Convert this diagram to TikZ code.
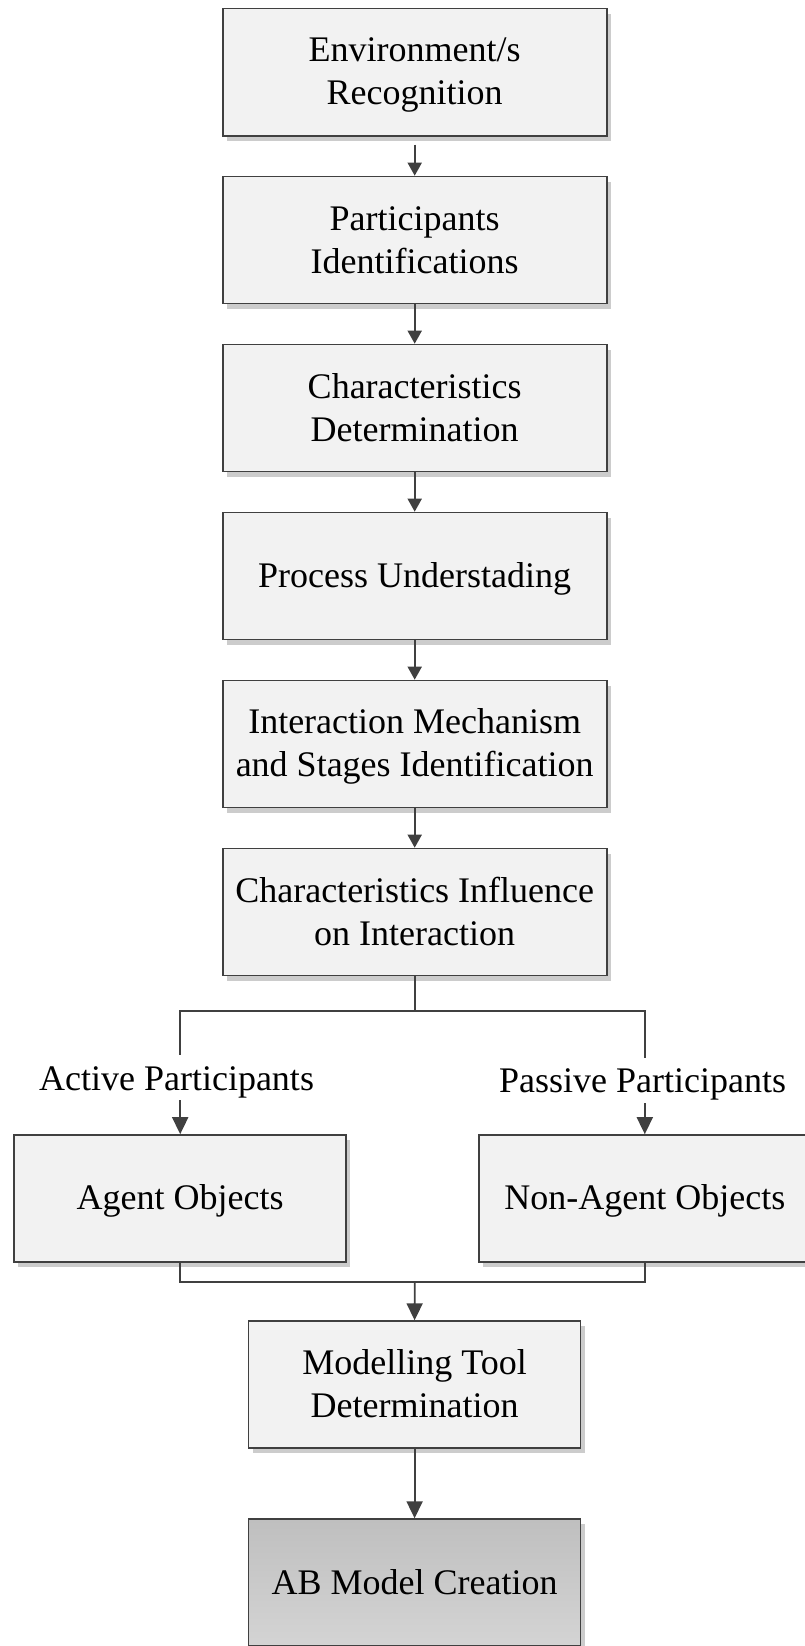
\documentclass[tikz,border=0pt]{standalone}
\usepackage{fontspec}
\setmainfont{Liberation Serif}
\usetikzlibrary{arrows.meta,shadows}
\definecolor{edge}{HTML}{404040}
\definecolor{boxfill}{HTML}{F2F2F2}
\definecolor{darktop}{HTML}{BFBFBF}
\definecolor{darkbot}{HTML}{D4D4D4}
% invisible struts that fix where the lines of a box sit
\newcommand\topst[1][30pt]{\rule{0pt}{#1}}
\newcommand\botst[1][7pt]{\rule[-#1]{0pt}{#1}}
\begin{document}
\begin{tikzpicture}[x=1pt,y=-1pt,
  stepbox/.style={draw=edge, line width=1.6pt, fill=boxfill,
    minimum width=384pt, minimum height=127pt, inner sep=0pt,
    align=center, font=\fontsize{36}{43}\selectfont,
    drop shadow={shadow xshift=4pt, shadow yshift=-5pt, fill=black!20, opacity=1}},
  narrowbox/.style={stepbox, minimum width=332pt},
  tag/.style={inner sep=0pt, anchor=base, font=\fontsize{36}{43}\selectfont},
  conn/.style={draw=edge, line width=1.8pt},
  arr/.style={conn, -{Triangle[length=13pt,width=14pt]}},
  bigarr/.style={conn, -{Triangle[length=17pt,width=16pt]}}
]
\useasboundingbox (0,0) rectangle (805,1646);

% main chain of steps
\node[stepbox] (b1) at (414.7,72.2)  {\topst Environment/s\\Recognition\botst};
\node[stepbox] (b2) at (414.7,240.0) {\topst Participants\\Identifications\botst};
\node[stepbox] (b3) at (414.7,408.0) {\topst Characteristics\\Determination\botst};
\node[stepbox] (b4) at (414.7,576.0) {\topst Process Understading\botst};
\node[stepbox] (b5) at (414.7,744.0) {\topst Interaction Mechanism\\and Stages Identification\botst};
\node[stepbox] (b6) at (414.7,912.0) {\topst Characteristics Influence\\on Interaction\botst};

% the two kinds of participants
\node[narrowbox] (agent)    at (180.2,1198.5) {\topst Agent Objects\botst};
\node[narrowbox] (nonagent) at (644.8,1198.5) {\topst Non-Agent Objects\botst};
\node[tag, text height=35pt, text depth=10pt] (act) at (176.5,1090) {Active Participants};
\node[tag, text height=34pt, text depth=11pt] (pas) at (642.6,1092) {Passive Participants};

% final steps
\node[narrowbox] (b8) at (414.6,1384.6) {\topst Modelling Tool\\Determination\botst};
\node[narrowbox, top color=darktop, bottom color=darkbot] (b9) at (414.6,1582.6) {\topst AB Model Creation\botst};

\coordinate (split) at (414.7,1010.7);
\coordinate (join)  at (414.7,1281.7);

% connectors
\draw[arr, shorten <=8pt] (b1.south) -- (b2.north);
\draw[arr] (b2.south) -- (b3.north);
\draw[arr] (b3.south) -- (b4.north);
\draw[arr] (b4.south) -- (b5.north);
\draw[arr] (b5.south) -- (b6.north);

\draw[conn] (b6.south) -- (split);
\draw[conn] (split) -| (act.north -| agent.north);
\draw[conn] (split) -| (pas.north -| nonagent.north);
\draw[bigarr] (act.south -| agent.north) -- (agent.north);
\draw[bigarr] (pas.south -| nonagent.north) -- (nonagent.north);

\draw[conn] (agent.south) |- (join);
\draw[conn] (nonagent.south) |- (join);
\draw[bigarr] (join) -- (b8.north);
\draw[bigarr] (b8.south) -- (b9.north);
\end{tikzpicture}
\end{document}
